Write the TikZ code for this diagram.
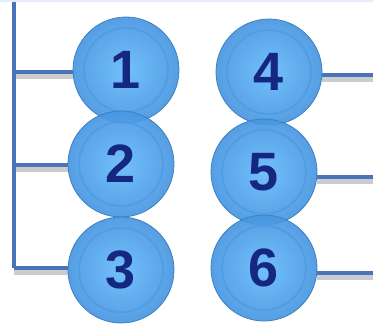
\documentclass[tikz,border=0pt]{standalone}
\usepackage{fontspec}
\setsansfont{Liberation Sans}
\usetikzlibrary{backgrounds}
\definecolor{ballRim}{RGB}{72,150,225}
\definecolor{ballLight}{RGB}{102,186,250}
\definecolor{numNavy}{RGB}{20,40,130}
\definecolor{wireBlue}{RGB}{72,116,186}
\begin{document}
\begin{tikzpicture}[x=1pt,y=-1pt,
  ball/.style={circle, minimum size=106pt, inner sep=0pt,
    inner color=ballLight, outer color=ballRim, draw=ballRim!85!black, line width=0.8pt,
    fill opacity=0.92, text opacity=1, text=numNavy,
    font=\fontsize{54}{54}\selectfont\sffamily\bfseries,
    path picture={\draw[ballRim, line width=2pt, opacity=0.5]
      (path picture bounding box.center) circle[radius=42pt];}},
  wire/.style={draw=wireBlue, line width=3.5pt},
  wireShadow/.style={draw=black!20, line width=5pt, transform canvas={yshift=-4pt}}
]
\useasboundingbox (0,0) rectangle (373,324);
\fill[blue!8] (0,0) rectangle (373,2);
% balls
\node[ball] (b1) at (126,70) {1};
\node[ball] (b2) at (121,164) {2};
\node[ball] (b3) at (121,270) {3};
\node[ball] (b4) at (269,72) {4};
\node[ball] (b5) at (264,172) {5};
\node[ball] (b6) at (264,268) {6};
% wire ends
\coordinate (top) at (14,0);
\coordinate (l1) at (14,72);
\coordinate (l2) at (14,165);
\coordinate (l3) at (14,268);
\coordinate (r4) at (373,75);
\coordinate (r5) at (373,177);
\coordinate (r6) at (373,273);
\begin{scope}[on background layer]
\draw[wireShadow] (l1) -- (l1 -| b1.west);
\draw[wireShadow] (l2) -- (l2 -| b2.west);
\draw[wireShadow] (l3) -- (l3 -| b3.west);
\draw[wireShadow] (r4 -| b4.east) -- (r4);
\draw[wireShadow] (r5 -| b5.east) -- (r5);
\draw[wireShadow] (r6 -| b6.east) -- (r6);
\draw[wire] (top) -- (l3);
\draw[wire] (l1) -- (l1 -| b1.west);
\draw[wire] (l2) -- (l2 -| b2.west);
\draw[wire] (l3) -- (l3 -| b3.west);
\draw[wire] (r4 -| b4.east) -- (r4);
\draw[wire] (r5 -| b5.east) -- (r5);
\draw[wire] (r6 -| b6.east) -- (r6);
\end{scope}
\end{tikzpicture}
\end{document}
